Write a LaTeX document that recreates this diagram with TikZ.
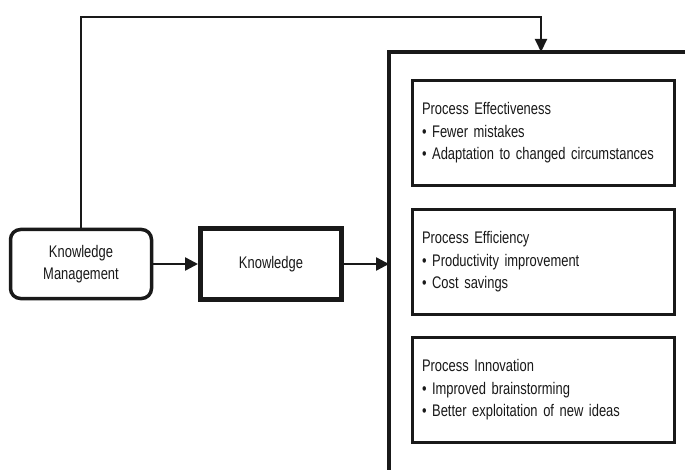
\documentclass[tikz,border=0pt]{standalone}
\usepackage{fontspec}
\setmainfont{Liberation Sans}[FakeStretch=0.77]
\usetikzlibrary{positioning,arrows.meta}

\begin{document}
\begin{tikzpicture}[x=1pt,y=-1pt,node distance=190pt,on grid,
    every node/.append style={font=\fontsize{16.8}{22.5}\selectfont,text=black!90},
    kmbox/.style={draw=black!90,rounded corners=10pt,line width=3.5pt,minimum width=141pt,minimum height=69pt,align=center},
    knowbox/.style={draw=black!90,line width=5pt,minimum width=141pt,minimum height=70pt},
    gainbox/.style={draw=black!90,line width=2.5pt,minimum width=262pt,minimum height=105pt,text width=243pt,align=left},
    flow/.style={draw=black!90,line width=2.5pt,-{Triangle[length=13pt,width=13pt]}},
    feedback/.style={draw=black!90,line width=2pt,-{Triangle[length=13pt,width=12pt]}}]
  \useasboundingbox[fill=white] (0,0) rectangle (685,470);

  % left part
  \node[kmbox] (km) at (81,264) {Knowledge\\Management};
  \node[knowbox, right=of km] (know) {Knowledge};

  % open frame round the gains
  \coordinate (impL) at (389,52);
  \coordinate (fbtop) at (541,17);
  \draw[draw=black!90,line width=4.5pt] (389,480) -- (impL) -- (695,52);

  % the three gains
  \node[gainbox] (eff) at (543.5,133) {Process Effectiveness\\
    \textbullet\ Fewer mistakes\\
    \textbullet\ Adaptation to changed circumstances};
  \node[gainbox, below=129pt of eff] (effi) {Process Efficiency\\
    \textbullet\ Productivity improvement\\
    \textbullet\ Cost savings};
  \node[gainbox, below=128pt of effi] (inno) {Process Innovation\\
    \textbullet\ Improved brainstorming\\
    \textbullet\ Better exploitation of new ideas};

  % connectors
  \draw[flow] (km) -- (know);
  \draw[flow] (know) -- (know -| impL);
  \draw[feedback] (km.north) |- (fbtop) -- (fbtop |- impL);
\end{tikzpicture}
\end{document}
